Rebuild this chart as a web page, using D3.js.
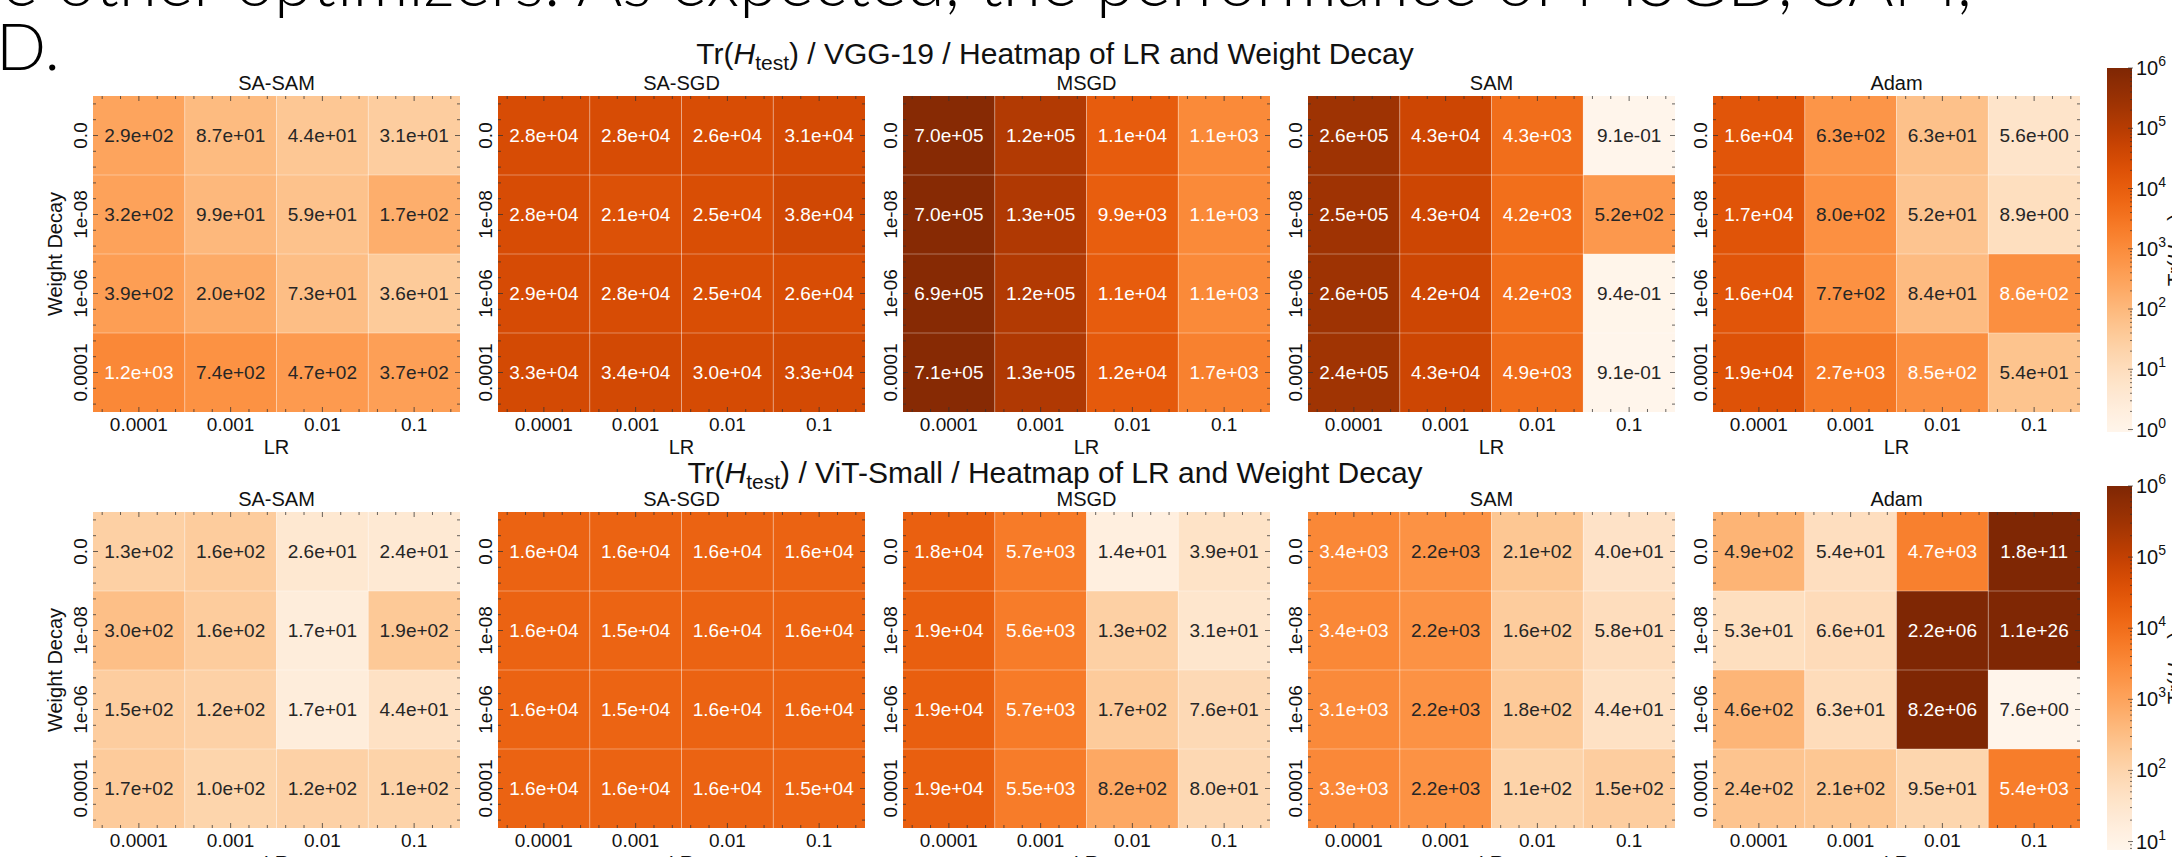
<!DOCTYPE html>
<html><head><meta charset="utf-8">
<script src="https://cdn.jsdelivr.net/npm/d3@7"></script>
<style>html,body{margin:0;padding:0;background:#fff;overflow:hidden}</style>
</head><body>
<svg id="chart" width="2172" height="857" xmlns="http://www.w3.org/2000/svg"></svg>
<script>
// ---------------- data ----------------
const lrLabels = ["0.0001", "0.001", "0.01", "0.1"];
const wdLabels = ["0.0", "1e-08", "1e-06", "0.0001"];
const optimizers = ["SA-SAM", "SA-SGD", "MSGD", "SAM", "Adam"];
const models = ["VGG-19", "ViT-Small"];

// rows = weight decay (0.0, 1e-08, 1e-06, 0.0001), cols = LR (0.0001, 0.001, 0.01, 0.1)
const vggSASAM = [[2.9e2, 8.7e1, 4.4e1, 3.1e1], [3.2e2, 9.9e1, 5.9e1, 1.7e2], [3.9e2, 2.0e2, 7.3e1, 3.6e1], [1.2e3, 7.4e2, 4.7e2, 3.7e2]];
const vggSASGD = [[2.8e4, 2.8e4, 2.6e4, 3.1e4], [2.8e4, 2.1e4, 2.5e4, 3.8e4], [2.9e4, 2.8e4, 2.5e4, 2.6e4], [3.3e4, 3.4e4, 3.0e4, 3.3e4]];
const vggMSGD  = [[7.0e5, 1.2e5, 1.1e4, 1.1e3], [7.0e5, 1.3e5, 9.9e3, 1.1e3], [6.9e5, 1.2e5, 1.1e4, 1.1e3], [7.1e5, 1.3e5, 1.2e4, 1.7e3]];
const vggSAM   = [[2.6e5, 4.3e4, 4.3e3, 9.1e-1], [2.5e5, 4.3e4, 4.2e3, 5.2e2], [2.6e5, 4.2e4, 4.2e3, 9.4e-1], [2.4e5, 4.3e4, 4.9e3, 9.1e-1]];
const vggAdam  = [[1.6e4, 6.3e2, 6.3e1, 5.6e0], [1.7e4, 8.0e2, 5.2e1, 8.9e0], [1.6e4, 7.7e2, 8.4e1, 8.6e2], [1.9e4, 2.7e3, 8.5e2, 5.4e1]];

const vitSASAM = [[1.3e2, 1.6e2, 2.6e1, 2.4e1], [3.0e2, 1.6e2, 1.7e1, 1.9e2], [1.5e2, 1.2e2, 1.7e1, 4.4e1], [1.7e2, 1.0e2, 1.2e2, 1.1e2]];
const vitSASGD = [[1.6e4, 1.6e4, 1.6e4, 1.6e4], [1.6e4, 1.5e4, 1.6e4, 1.6e4], [1.6e4, 1.5e4, 1.6e4, 1.6e4], [1.6e4, 1.6e4, 1.6e4, 1.5e4]];
const vitMSGD  = [[1.8e4, 5.7e3, 1.4e1, 3.9e1], [1.9e4, 5.6e3, 1.3e2, 3.1e1], [1.9e4, 5.7e3, 1.7e2, 7.6e1], [1.9e4, 5.5e3, 8.2e2, 8.0e1]];
const vitSAM   = [[3.4e3, 2.2e3, 2.1e2, 4.0e1], [3.4e3, 2.2e3, 1.6e2, 5.8e1], [3.1e3, 2.2e3, 1.8e2, 4.4e1], [3.3e3, 2.2e3, 1.1e2, 1.5e2]];
const vitAdam  = [[4.9e2, 5.4e1, 4.7e3, 1.8e11], [5.3e1, 6.6e1, 2.2e6, 1.1e26], [4.6e2, 6.3e1, 8.2e6, 7.6e0], [2.4e2, 2.1e2, 9.5e1, 5.4e3]];

const colorMax = 1e6;
const cbTicksVgg = [1e0, 1e1, 1e2, 1e3, 1e4, 1e5, 1e6];
const cbTicksVit = [1e1, 1e2, 1e3, 1e4, 1e5, 1e6];

const paperLine = "while other optimizers. As expected, the performance of MSGD, SAM,";
const panelLabel = "D.";

// ---------------- layout ----------------
const svg = d3.select("#chart");
const FONT = "'Liberation Sans', Arial, Helvetica, sans-serif";
const panelX0 = 93, panelStep = 405, panelW = 367, panelH = 316;
const cbX = 2107, cbW = 25, cbLen = 364;

const rowsCfg = [
  { model: models[0], data: [vggSASAM, vggSASGD, vggMSGD, vggSAM, vggAdam], top: 96, titleY: 64, cbTop: 68, cbTicks: cbTicksVgg },
  { model: models[1], data: [vitSASAM, vitSASGD, vitMSGD, vitSAM, vitAdam], top: 512, titleY: 483, cbTop: 486, cbTicks: cbTicksVit }
];

function fmt(v) {
  const s = v.toExponential(1);
  const [m, e] = s.split("e");
  const sign = e[0];
  let d = e.slice(1);
  if (d.length < 2) d = "0" + d;
  return m + "e" + sign + d;
}

const defs = svg.append("defs");

// paper text fragments at top
const pl = svg.append("text")
  .attr("y", 6)
  .attr("font-family", "Lato, 'Open Sans', sans-serif")
  .attr("font-weight", 300)
  .attr("font-size", 64)
  .attr("fill", "#000")
  .text(paperLine);
{
  const node = pl.node();
  const iP = paperLine.indexOf("optimizers") + 1;
  const iC = paperLine.indexOf("SAM,") + 3;
  const xp = node.getSubStringLength(0, iP);
  const xc = node.getSubStringLength(0, iC);
  const fs = 64 * (1957 - 274) / (xc - xp);
  pl.attr("font-size", fs);
  const xp2 = node.getSubStringLength(0, iP);
  pl.attr("x", 274 - xp2);
}
svg.append("text")
  .attr("x", -4).attr("y", 70)
  .attr("font-family", "Lato, 'Open Sans', sans-serif")
  .attr("font-weight", 300)
  .attr("font-size", 66)
  .attr("fill", "#000")
  .text(panelLabel);

rowsCfg.forEach((row, ri) => {
  const all = row.data.flat(2);
  const vmin = d3.min(all);
  const color = d3.scaleSequentialLog(d3.interpolateOranges).domain([vmin, colorMax]).clamp(true);
  const norm = d3.scaleLog().domain([vmin, colorMax]).range([0, 1]).clamp(true);
  const thresh = norm(Math.min(d3.max(all), colorMax)) / 2;

  // title
  const t = svg.append("text")
    .attr("x", 1055).attr("y", row.titleY)
    .attr("text-anchor", "middle")
    .attr("font-family", FONT).attr("font-size", 30).attr("fill", "#111");
  t.append("tspan").text("Tr(");
  t.append("tspan").attr("font-style", "italic").text("H");
  t.append("tspan").attr("font-size", 21).attr("dy", 6).text("test");
  t.append("tspan").attr("dy", -6).text(")");
  t.append("tspan").text(" / " + row.model + " / Heatmap of LR and Weight Decay");

  row.data.forEach((mat, pi) => {
    const x0 = panelX0 + pi * panelStep;
    const x = d3.scaleBand().domain(lrLabels).range([x0, x0 + panelW]);
    const y = d3.scaleBand().domain(wdLabels).range([row.top, row.top + panelH]);
    const g = svg.append("g");

    // subplot title
    g.append("text")
      .attr("x", x0 + panelW / 2).attr("y", row.top - 6)
      .attr("text-anchor", "middle")
      .attr("font-family", FONT).attr("font-size", 20).attr("fill", "#111")
      .text(optimizers[pi]);

    const cells = [];
    wdLabels.forEach((wd, r) => lrLabels.forEach((lr, c) => cells.push({ wd, lr, v: mat[r][c] })));

    g.selectAll("rect.cell").data(cells).join("rect")
      .attr("class", "cell")
      .attr("x", d => x(d.lr)).attr("y", d => y(d.wd))
      .attr("width", x.bandwidth()).attr("height", y.bandwidth())
      .attr("fill", d => color(d.v));

    // cell separators
    g.selectAll("line.vsep").data(lrLabels.slice(1)).join("line")
      .attr("x1", d => x(d)).attr("x2", d => x(d))
      .attr("y1", row.top).attr("y2", row.top + panelH)
      .attr("stroke", "#fff").attr("stroke-opacity", 0.35).attr("stroke-width", 1);
    g.selectAll("line.hsep").data(wdLabels.slice(1)).join("line")
      .attr("y1", d => y(d)).attr("y2", d => y(d))
      .attr("x1", x0).attr("x2", x0 + panelW)
      .attr("stroke", "#fff").attr("stroke-opacity", 0.35).attr("stroke-width", 1);

    g.selectAll("text.val").data(cells).join("text")
      .attr("x", d => x(d.lr) + x.bandwidth() / 2)
      .attr("y", d => y(d.wd) + y.bandwidth() / 2)
      .attr("dy", "0.36em")
      .attr("text-anchor", "middle")
      .attr("font-family", FONT).attr("font-size", 19)
      .attr("fill", d => norm(d.v) > thresh ? "#ffffff" : "#262626")
      .text(d => fmt(d.v));

    // inward ticks on all four sides
    const tickG = g.append("g").attr("stroke", "#333").attr("stroke-width", 1).attr("stroke-opacity", 0.75);
    const fr = [0.1, 0.3, 0.5, 0.7, 0.9];
    const xt = [], yt = [];
    lrLabels.forEach(l => fr.forEach(f => xt.push({ p: x(l) + f * x.bandwidth(), major: f === 0.5 })));
    wdLabels.forEach(l => fr.forEach(f => yt.push({ p: y(l) + f * y.bandwidth(), major: f === 0.5 })));
    xt.forEach(d => {
      const L = d.major ? 5 : 3;
      tickG.append("line").attr("x1", d.p).attr("x2", d.p).attr("y1", row.top).attr("y2", row.top + L);
      tickG.append("line").attr("x1", d.p).attr("x2", d.p).attr("y1", row.top + panelH).attr("y2", row.top + panelH - L);
    });
    yt.forEach(d => {
      const L = d.major ? 5 : 3;
      tickG.append("line").attr("y1", d.p).attr("y2", d.p).attr("x1", x0).attr("x2", x0 + L);
      tickG.append("line").attr("y1", d.p).attr("y2", d.p).attr("x1", x0 + panelW).attr("x2", x0 + panelW - L);
    });

    // x axis labels
    const xa = g.append("g").attr("transform", `translate(0,${row.top + panelH})`)
      .call(d3.axisBottom(x).tickSize(0).tickPadding(0));
    xa.select(".domain").remove();
    xa.selectAll("text").attr("dy", null).attr("y", 19)
      .attr("font-family", FONT).attr("font-size", 19).attr("fill", "#111");

    g.append("text")
      .attr("x", x0 + panelW / 2).attr("y", row.top + panelH + 42)
      .attr("text-anchor", "middle")
      .attr("font-family", FONT).attr("font-size", 20).attr("fill", "#111")
      .text("LR");

    // y axis labels (rotated)
    const ya = g.append("g").attr("transform", `translate(${x0},0)`)
      .call(d3.axisLeft(y).tickSize(0));
    ya.select(".domain").remove();
    ya.selectAll("text")
      .attr("x", 0).attr("dy", null).attr("y", -6)
      .attr("transform", "rotate(-90)")
      .attr("text-anchor", "middle")
      .attr("font-family", FONT).attr("font-size", 19).attr("fill", "#111");

    if (pi === 0) {
      g.append("text")
        .attr("transform", `translate(${x0 - 31},${row.top + panelH / 2}) rotate(-90)`)
        .attr("text-anchor", "middle")
        .attr("font-family", FONT).attr("font-size", 20).attr("fill", "#111")
        .text("Weight Decay");
    }
  });

  // colorbar
  const cbY = d3.scaleLog().domain([vmin, colorMax]).range([row.cbTop + cbLen, row.cbTop]);
  const gid = "cbgrad" + ri;
  const grad = defs.append("linearGradient").attr("id", gid)
    .attr("x1", 0).attr("y1", 1).attr("x2", 0).attr("y2", 0);
  d3.range(0, 1.0001, 0.02).forEach(f => {
    const v = Math.pow(10, Math.log10(vmin) + f * (Math.log10(colorMax) - Math.log10(vmin)));
    grad.append("stop").attr("offset", f).attr("stop-color", color(v));
  });
  svg.append("rect")
    .attr("x", cbX).attr("y", row.cbTop).attr("width", cbW).attr("height", cbLen)
    .attr("fill", `url(#${gid})`);

  const minor = [];
  for (let k = -1; k < 6; k++) for (let m = 2; m <= 9; m++) {
    const v = m * Math.pow(10, k);
    if (v >= vmin && v <= colorMax) minor.push(v);
  }
  const cg = svg.append("g").attr("stroke", "#333").attr("stroke-width", 1).attr("stroke-opacity", 0.7);
  minor.forEach(v => cg.append("line").attr("x1", cbX + cbW - 2).attr("x2", cbX + cbW).attr("y1", cbY(v)).attr("y2", cbY(v)));
  row.cbTicks.forEach(v => cg.append("line").attr("x1", cbX + cbW - 4).attr("x2", cbX + cbW + 1).attr("y1", cbY(v)).attr("y2", cbY(v)));

  row.cbTicks.forEach(v => {
    const tx = svg.append("text")
      .attr("x", cbX + cbW + 4).attr("y", cbY(v) + 7)
      .attr("font-family", FONT).attr("font-size", 20).attr("fill", "#111");
    tx.append("tspan").text("10");
    tx.append("tspan").attr("font-size", 14).attr("dy", -9).text(Math.round(Math.log10(v)));
  });

  // colorbar label (mostly outside the frame)
  const cl = svg.append("text")
    .attr("transform", `translate(2182,${row.cbTop + cbLen / 2}) rotate(-90)`)
    .attr("text-anchor", "middle")
    .attr("font-family", FONT).attr("font-size", 21).attr("fill", "#111");
  cl.append("tspan").text("Tr(");
  cl.append("tspan").attr("font-style", "italic").text("H");
  cl.append("tspan").attr("font-size", 15).attr("dy", 5).text("test");
  cl.append("tspan").attr("dy", -5).text(")");
});
</script>
</body></html>
